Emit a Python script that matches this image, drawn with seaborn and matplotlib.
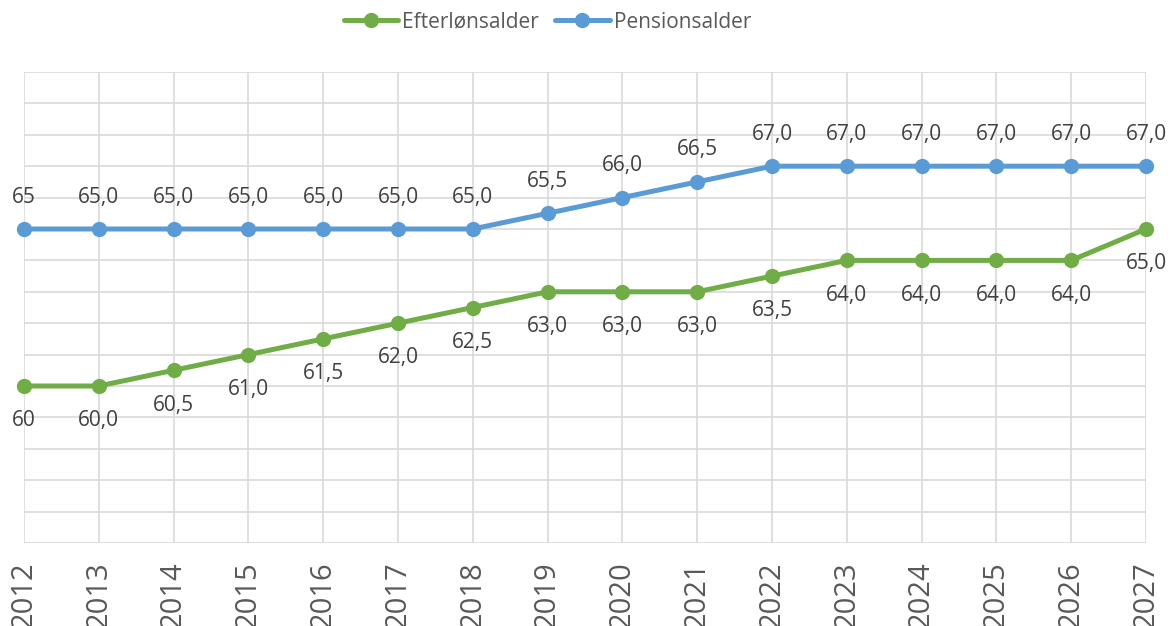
import matplotlib
matplotlib.use("Agg")
import matplotlib.pyplot as plt
import pandas as pd
import seaborn as sns

years = list(range(2012, 2028))
efterloen = [60, 60, 60.5, 61, 61.5, 62, 62.5, 63, 63, 63, 63.5, 64, 64, 64, 64, 65]
pension = [65, 65, 65, 65, 65, 65, 65, 65.5, 66, 66.5, 67, 67, 67, 67, 67, 67]
series_names = ["Efterlønsalder", "Pensionsalder"]
colors = ["#70AD47", "#5B9BD5"]

df = pd.concat([
    pd.DataFrame({"year": years, "alder": efterloen, "serie": series_names[0]}),
    pd.DataFrame({"year": years, "alder": pension, "serie": series_names[1]}),
])

sns.set_style("white")
plt.rcParams["font.family"] = ["Open Sans", "DejaVu Sans"]

fig = plt.figure(figsize=(11.72, 6.26), dpi=100)
ax = fig.add_axes([24 / 1172, 1 - 543 / 626, (1146 - 24) / 1172, (543 - 72) / 626])

sns.lineplot(data=df, x="year", y="alder", hue="serie", palette=dict(zip(series_names, colors)),
             marker="o", markersize=11, markeredgewidth=0, linewidth=3.6, ax=ax,
             legend=False, clip_on=False, zorder=3)

ax.set_xlim(2012, 2027)
ax.set_ylim(55, 70)
ax.set_xticks(years)
ax.set_yticks(range(55, 71))
ax.set_yticklabels([])
ax.grid(True, color="#D9D9D9", linewidth=1.2)
for s in ax.spines.values():
    s.set_visible(False)
ax.tick_params(axis="both", length=0)
ax.set_xticklabels([str(y) for y in years], rotation=90, fontsize=21, color="#595959", va="top")
ax.tick_params(axis="x", pad=13)
ax.set_xlabel("")
ax.set_ylabel("")


def fmt(i, v):
    return f"{v:.0f}" if i == 0 else f"{v:.1f}".replace(".", ",")


for i, (x, v) in enumerate(zip(years, pension)):
    ax.annotate(fmt(i, v), (x, v), xytext=(0, 23), textcoords="offset points",
                ha="center", va="center", fontsize=15, color="#404040", annotation_clip=False)
for i, (x, v) in enumerate(zip(years, efterloen)):
    ax.annotate(fmt(i, v), (x, v), xytext=(0, -25), textcoords="offset points",
                ha="center", va="center", fontsize=15, color="#404040", annotation_clip=False)

handles = [plt.Line2D([], [], color=c, marker="o", markersize=11, markeredgewidth=0, linewidth=3.6)
           for c in colors]
leg = fig.legend(handles, series_names, loc="center", bbox_to_anchor=(0.467, 1 - 22 / 626), ncol=2,
                 frameon=False, fontsize=15, handlelength=2.6, handletextpad=0.2, columnspacing=0.8)
for t in leg.get_texts():
    t.set_color("#595959")

fig.savefig("out.png", dpi=100)
